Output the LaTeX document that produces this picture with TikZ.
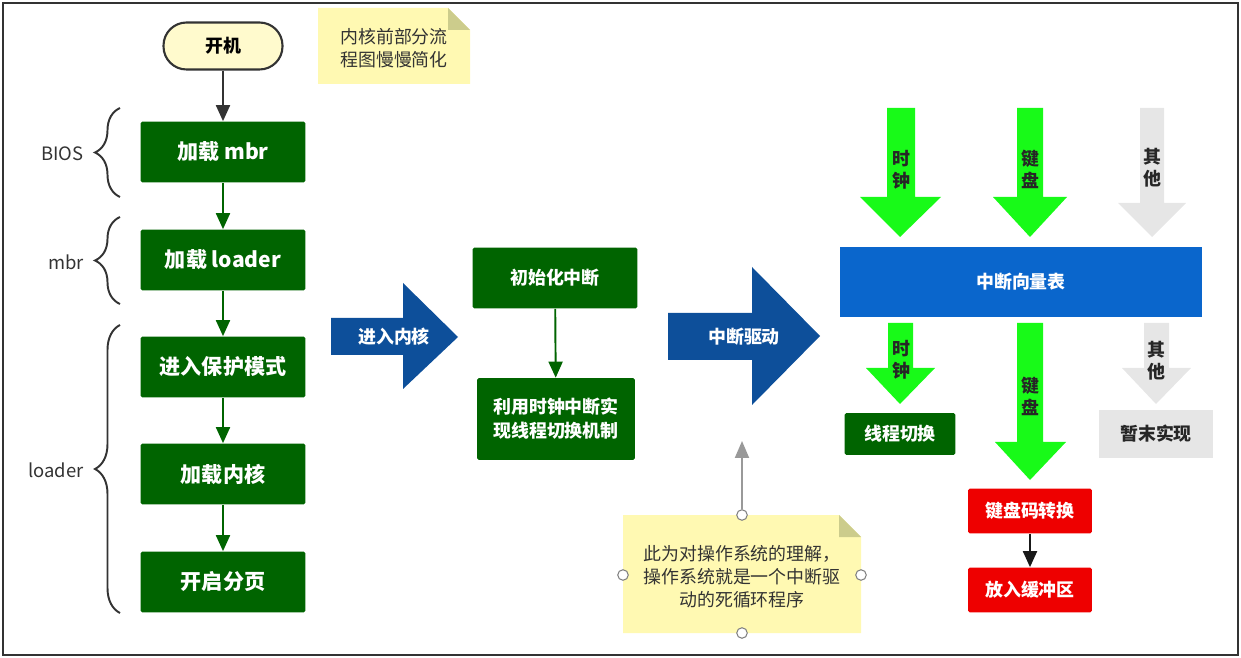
\documentclass[tikz,border=0pt]{standalone}
\usepackage{fontspec}
\setmainfont{Noto Sans CJK SC}
\usetikzlibrary{arrows.meta,decorations.pathreplacing}

\definecolor{boxgreen}{RGB}{0,100,0}
\definecolor{kernblue}{RGB}{13,79,154}
\definecolor{tableblue}{RGB}{10,102,204}
\definecolor{irqgreen}{RGB}{24,250,24}
\definecolor{othergray}{RGB}{230,230,230}
\definecolor{kbred}{RGB}{238,0,0}
\definecolor{notefill}{RGB}{255,249,178}
\definecolor{notefold}{RGB}{204,204,140}
\definecolor{startfill}{RGB}{255,250,205}
\definecolor{linegray}{RGB}{51,51,51}

\tikzset{
  greenbox/.style={fill=boxgreen, text=white, font=\fontsize{12}{14}\selectfont\bfseries,
    minimum width=3.3cm, minimum height=1.22cm, inner sep=0pt, rounded corners=1pt},
  midbox/.style={fill=boxgreen, text=white, font=\fontsize{10.2}{13.6}\selectfont\bfseries,
    align=center, inner sep=0pt, rounded corners=1pt},
  redbox/.style={fill=kbred, text=white, font=\fontsize{10.2}{13}\selectfont\bfseries,
    minimum width=2.48cm, minimum height=0.9cm, inner sep=0pt, rounded corners=1pt},
  startbox/.style={fill=startfill, draw=linegray, line width=1.2pt, rounded corners=0.46cm,
    minimum width=2.38cm, minimum height=0.94cm, font=\fontsize{10.2}{13}\selectfont\bfseries},
  whitetext/.style={text=white, font=\fontsize{10.2}{13}\selectfont\bfseries, inner sep=0pt},
  irqtext/.style={text=black!85, font=\fontsize{10.2}{12.6}\selectfont\bfseries, align=center, inner sep=0pt},
  notetext/.style={text=linegray, font=\fontsize{10.2}{13.2}\selectfont, align=center, inner sep=0pt},
  bracelabel/.style={text=linegray, font=\fontsize{10.5}{13}\selectfont, inner sep=0pt},
  brace/.style={decorate, decoration={brace, amplitude=0.5cm}, line width=1.1pt, linegray},
  flow/.style={line width=1.1pt, -{Triangle[length=0.32cm, width=0.28cm]}},
  handle/.style={circle, draw=gray, fill=white, line width=0.6pt, minimum size=6pt, inner sep=0pt}
}

\begin{document}
\begin{tikzpicture}[x=0.02cm, y=-0.02cm]
  \useasboundingbox (0,0) rectangle (1241,658);
  \draw[line width=1.2pt, linegray] (3,3) rectangle (1238,655);

  % boot column
  \node[startbox] (poweron) at (223,46) {开机};
  \node[greenbox] (loadmbr)    at (223,152) {加载 mbr};
  \node[greenbox] (loadloader) at (223,260) {加载 loader};
  \node[greenbox] (protmode)   at (223,367) {进入保护模式};
  \node[greenbox] (loadkernel) at (223,474) {加载内核};
  \node[greenbox] (paging)     at (223,582) {开启分页};
  \draw[flow, linegray]  (poweron) -- (loadmbr);
  \draw[flow, boxgreen]  (loadmbr) -- (loadloader);
  \draw[flow, boxgreen]  (loadloader) -- (protmode);
  \draw[flow, boxgreen]  (protmode) -- (loadkernel);
  \draw[flow, boxgreen]  (loadkernel) -- (paging);

  % braces
  \draw[brace] (120,197) -- (120,108);
  \draw[brace] (120,304) -- (120,217);
  \draw[brace] (120,613) -- (120,325);
  \node[bracelabel, anchor=east] (bioslabel)   at (84,154) {BIOS};
  \node[bracelabel, anchor=east] (mbrlabel)    at (84,262) {mbr};
  \node[bracelabel, anchor=east] (loaderlabel) at (84,470) {loader};

  % note top
  \fill[notefill] (318,8) -- (448,8) -- (470,30) -- (470,84) -- (318,84) -- cycle;
  \fill[notefold] (448,8) -- (448,30) -- (470,30) -- cycle;
  \node[notetext] (notetop) at (394,48) {内核前部分流\\程图慢慢简化};

  % kernel entry
  \fill[kernblue] (331,318) -- (403,318) -- (403,283) -- (458,337) -- (403,389) -- (403,355) -- (331,355) -- cycle;
  \node[whitetext] (enterkernel) at (394,337) {进入内核};
  \node[midbox, minimum width=3.3cm, minimum height=1.22cm] (initirq) at (555,278) {初始化中断};
  \node[midbox, minimum width=3.16cm, minimum height=1.64cm] (timerswitch) at (556,419) {利用时钟中断实\\现线程切换机制};
  \draw[flow, boxgreen] (initirq) -- (timerswitch);

  % interrupt driver
  \fill[kernblue] (668,313) -- (752,313) -- (752,267) -- (820,336) -- (752,405) -- (752,360) -- (668,360) -- cycle;
  \node[whitetext] (irqdriver) at (744,337) {中断驱动};

  % note bottom
  \fill[notefill] (623,515) -- (839,515) -- (861,537) -- (861,633) -- (623,633) -- cycle;
  \fill[notefold] (839,515) -- (839,537) -- (861,537) -- cycle;
  \node[notetext] (notecore) at (742,577) {此为对操作系统的理解，\\操作系统就是一个中断驱\\动的死循环程序};
  \node[handle] (handletop)   at (742,515) {};
  \node[handle] (handleleft)  at (623,575) {};
  \node[handle] (handleright) at (861,575) {};
  \node[handle] (handlebot)   at (742,633) {};
  \coordinate (pointup) at (742,441);
  \draw[line width=1.1pt, gray!80, -{Triangle[length=0.34cm, width=0.28cm]}] (handletop) -- (pointup);

  % interrupt sources
  \fill[irqgreen] (887,108) -- (915,108) -- (915,197) -- (941,197) -- (900,237) -- (860,197) -- (887,197) -- cycle;
  \fill[irqgreen] (1017,108) -- (1043,108) -- (1043,197) -- (1067,197) -- (1030,237) -- (993,197) -- (1017,197) -- cycle;
  \fill[othergray] (1140,108) -- (1164,108) -- (1164,203) -- (1186,203) -- (1152,237) -- (1118,203) -- (1140,203) -- cycle;
  \node[irqtext] (clkin)   at (901,170) {时\\钟};
  \node[irqtext] (kbdin)   at (1030,169) {键\\盘};
  \node[irqtext] (otherin) at (1152,168) {其\\他};

  \node[fill=tableblue, text=white, font=\fontsize{10.2}{13}\selectfont\bfseries, minimum width=7.24cm,
    minimum height=1.4cm, inner sep=0pt] (ivt) at (1021,282) {中断向量表};

  % dispatch
  \fill[irqgreen] (888,323) -- (913,323) -- (913,368) -- (935,368) -- (900,404) -- (866,368) -- (888,368) -- cycle;
  \fill[irqgreen] (1017,323) -- (1043,323) -- (1043,442) -- (1066,442) -- (1030,480) -- (995,442) -- (1017,442) -- cycle;
  \fill[othergray] (1144,323) -- (1169,323) -- (1169,368) -- (1191,368) -- (1156,404) -- (1122,368) -- (1144,368) -- cycle;
  \node[irqtext] (clkout)   at (901,360) {时\\钟};
  \node[irqtext] (kbdout)   at (1030,396) {键\\盘};
  \node[irqtext] (otherout) at (1156,361) {其\\他};

  \node[midbox, minimum width=2.22cm, minimum height=0.84cm] (threadswitch) at (900,434) {线程切换};
  \node[fill=othergray, text=black!85, font=\fontsize{10.2}{13}\selectfont\bfseries, minimum width=2.28cm,
    minimum height=0.96cm, inner sep=0pt] (notimpl) at (1156,434) {暂末实现};
  \node[redbox] (kbconv)   at (1030,511) {键盘码转换};
  \node[redbox] (kbbuffer) at (1030,590) {放入缓冲区};
  \draw[flow, black!90] (kbconv) -- (kbbuffer);
\end{tikzpicture}
\end{document}
